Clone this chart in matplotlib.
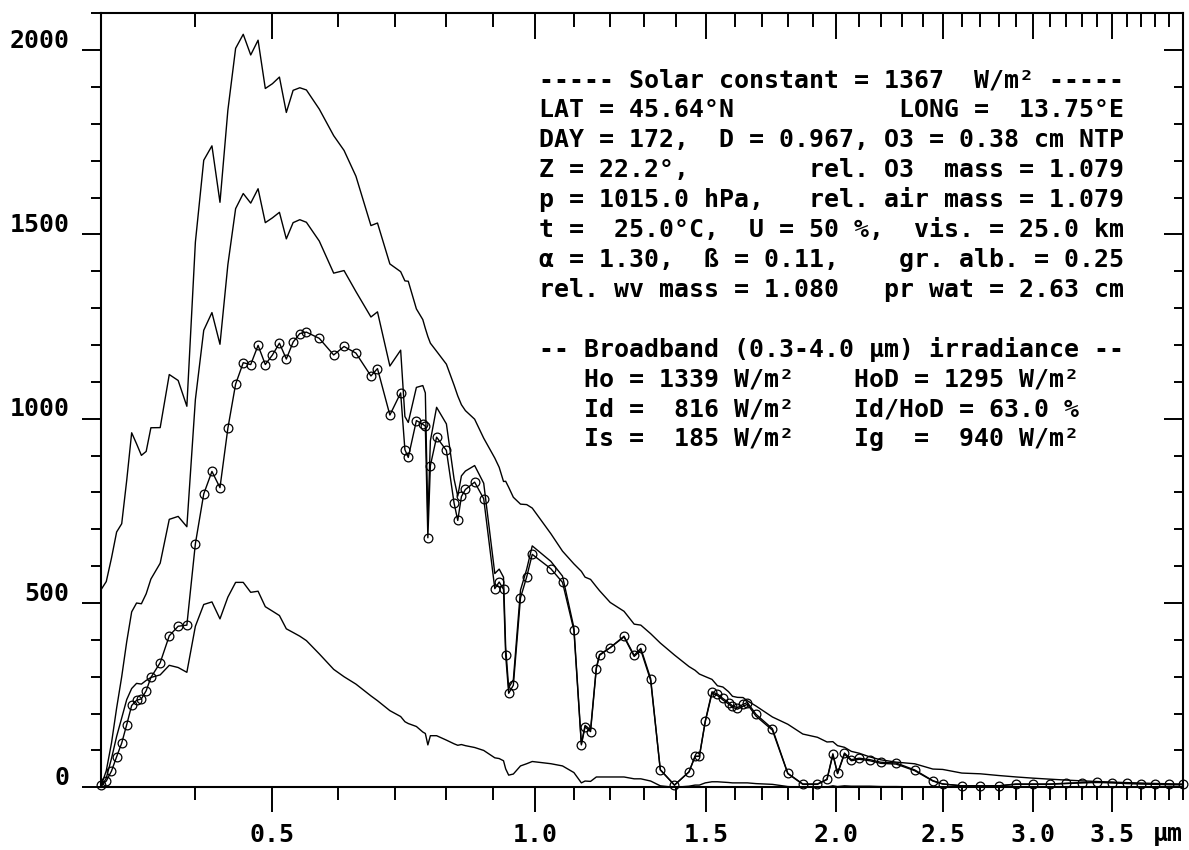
import numpy as np
import matplotlib
matplotlib.use("Agg")
import matplotlib.pyplot as plt
from matplotlib.ticker import FixedLocator, FixedFormatter, NullFormatter
from matplotlib.transforms import ScaledTranslation

# ---------------- data ----------------
wavelength = [0.3, 0.305, 0.31, 0.315, 0.32, 0.325, 0.33, 0.335, 0.34, 0.345,
              0.35, 0.36, 0.37, 0.38, 0.39, 0.4, 0.41, 0.42, 0.43, 0.44,
              0.45, 0.46, 0.47, 0.48, 0.49, 0.5, 0.51, 0.52, 0.53, 0.54,
              0.55, 0.57, 0.593, 0.61, 0.63, 0.656, 0.6676, 0.69, 0.71, 0.718,
              0.7244, 0.74, 0.7525, 0.7575, 0.7625, 0.7675, 0.78, 0.8, 0.816, 0.8237,
              0.8315, 0.84, 0.86, 0.88, 0.905, 0.915, 0.925, 0.93, 0.937, 0.948,
              0.965, 0.98, 0.9935, 1.04, 1.07, 1.1, 1.12, 1.13, 1.145, 1.161,
              1.17, 1.2, 1.24, 1.27, 1.29, 1.32, 1.35, 1.395, 1.4425, 1.4625,
              1.477, 1.497, 1.52, 1.539, 1.558, 1.578, 1.592, 1.61, 1.63, 1.646,
              1.678, 1.74, 1.8, 1.86, 1.92, 1.96, 1.985, 2.005, 2.035, 2.065,
              2.1, 2.148, 2.198, 2.27, 2.36, 2.45, 2.5, 2.6, 2.7, 2.8,
              2.9, 3.0, 3.1, 3.2, 3.3, 3.4, 3.5, 3.6, 3.7, 3.8,
              3.9, 4.0]

extraterrestrial = [535.9, 558.3, 622.0, 692.7, 715.1, 832.9, 961.9, 931.9, 900.6, 911.3,
                    975.5, 975.9, 1119.9, 1103.8, 1033.8, 1479.1, 1701.3, 1740.4, 1587.2, 1837.0,
                    2005.0, 2043.0, 1987.0, 2027.0, 1896.0, 1909.0, 1927.0, 1831.0, 1891.0, 1898.0,
                    1892.0, 1840.0, 1768.0, 1728.0, 1658.0, 1524.0, 1531.0, 1420.0, 1399.0, 1374.0,
                    1373.0, 1298.0, 1269.0, 1245.0, 1223.0, 1205.0, 1183.0, 1148.0, 1091.0, 1062.0,
                    1038.0, 1022.0, 998.7, 947.2, 893.2, 868.2, 829.7, 830.3, 814.0, 786.9,
                    768.3, 767.0, 757.6, 688.1, 640.7, 606.2, 585.9, 570.2, 564.1, 544.2,
                    533.4, 501.6, 477.5, 442.7, 440.0, 416.8, 391.4, 358.9, 327.5, 317.5,
                    307.3, 300.4, 292.8, 275.5, 272.1, 259.3, 246.9, 244.0, 243.5, 234.8,
                    220.5, 190.8, 171.1, 144.5, 135.7, 123.0, 123.8, 113.0, 108.5, 97.5,
                    92.4, 82.4, 74.6, 68.3, 63.8, 49.5, 48.5, 38.6, 36.6, 32.0,
                    28.1, 24.8, 22.1, 19.6, 17.5, 15.7, 14.1, 12.7, 11.5, 10.4,
                    9.5, 8.6]

direct_normal = [5, 17, 44, 83, 120, 170, 222, 236, 240, 262,
                 298, 338, 411, 437, 440, 661, 796, 857, 813, 974,
                 1094, 1152, 1147, 1199, 1147, 1173, 1205, 1162, 1208, 1231,
                 1235, 1218, 1173, 1196, 1178, 1116, 1136, 1010, 1070, 916,
                 895, 995, 985, 980, 677, 873, 950, 914, 771, 724,
                 789, 808, 828, 783, 539, 557, 537, 358, 255, 277,
                 514, 571, 632, 593, 556, 426, 115, 164, 151, 322,
                 358, 379, 410, 358, 377, 295, 47, 6, 42, 84,
                 84, 180, 259, 253, 241, 230, 221, 216, 225, 230,
                 198, 159, 38, 9, 9, 22, 91, 38, 93, 75,
                 79, 75, 68, 66, 47, 18, 9, 4, 4, 4,
                 9, 9, 9, 11, 13, 14, 13, 11, 10, 9,
                 8, 8]

global_horizontal = [3, 45, 120, 215, 300, 395, 476, 500, 498, 525,
                     565, 608, 727, 735, 707, 1052, 1240, 1288, 1202, 1418,
                     1570, 1611, 1585, 1624, 1532, 1545, 1560, 1488, 1532, 1540,
                     1533, 1482, 1395, 1402, 1345, 1276, 1290, 1143, 1186, 1006,
                     990, 1085, 1090, 1070, 724, 940, 1031, 986, 836, 790,
                     845, 858, 873, 825, 580, 592, 570, 380, 270, 292,
                     535, 592, 655, 613, 573, 433, 118, 168, 156, 325,
                     360, 379, 408, 355, 372, 290, 48, 6, 42, 84,
                     84, 178, 255, 249, 237, 226, 217, 212, 220, 225,
                     193, 155, 37, 8, 8, 21, 88, 37, 90, 72,
                     76, 72, 65, 63, 45, 17, 9, 4, 4, 4,
                     8, 8, 8, 10, 12, 13, 12, 10, 9, 8,
                     7, 7]

diffuse = [0, 25, 78, 138, 188, 238, 268, 282, 280, 290,
           298, 305, 331, 325, 312, 437, 496, 503, 457, 516,
           556, 556, 529, 532, 490, 478, 466, 430, 420, 410,
           398, 362, 320, 300, 280, 248, 235, 208, 192, 178,
           173, 165, 150, 146, 115, 140, 140, 128, 118, 114,
           116, 113, 108, 100, 80, 78, 72, 50, 33, 36,
           58, 64, 70, 64, 58, 40, 12, 17, 16, 28,
           28, 28, 28, 23, 23, 17, 4, 0, 3, 6,
           6, 12, 15, 15, 14, 13, 12, 12, 12, 12,
           10, 8, 2, 0, 0, 1, 4, 2, 4, 3,
           3, 3, 2, 2, 1, 0, 0, 0, 0, 0,
           0, 0, 0, 0, 0, 0, 0, 0, 0, 0,
           0, 0]

x_major = [0.5, 1.0, 1.5, 2.0, 2.5, 3.0, 3.5]
x_major_labels = ["0.5", "1.0", "1.5", "2.0", "2.5", "3.0", "3.5"]
x_minor = [0.4, 0.6, 0.7, 0.8, 0.9, 1.1, 1.2, 1.3, 1.4, 1.6, 1.7, 1.8, 1.9,
           2.1, 2.2, 2.3, 2.4, 2.6, 2.7, 2.8, 2.9, 3.1, 3.2, 3.3, 3.4,
           3.6, 3.7, 3.8, 3.9, 4.0]
y_major = [0, 500, 1000, 1500, 2000]
y_major_labels = ["0", "500", "1000", "1500", "2000"]
y_minor = [100, 200, 300, 400, 600, 700, 800, 900, 1100, 1200, 1300, 1400,
           1600, 1700, 1800, 1900, 2100]

info_lines = [
    "----- Solar constant = 1367  W/m² -----",
    "LAT = 45.64°N".ljust(24) + "LONG =  13.75°E",
    "DAY = 172,  D = 0.967, O3 = 0.38 cm NTP",
    "Z = 22.2°,".ljust(18) + "rel. O3  mass = 1.079",
    "p = 1015.0 hPa,".ljust(18) + "rel. air mass = 1.079",
    "t =  25.0°C,  U = 50 %,  vis. = 25.0 km",
    "α = 1.30,  ß = 0.11,".ljust(24) + "gr. alb. = 0.25",
    "rel. wv mass = 1.080".ljust(23) + "pr wat = 2.63 cm",
    "",
    "-- Broadband (0.3-4.0 µm) irradiance --",
    "   Ho = 1339 W/m²".ljust(21) + "HoD = 1295 W/m²",
    "   Id =  816 W/m²".ljust(21) + "Id/HoD = 63.0 %",
    "   Is =  185 W/m²".ljust(21) + "Ig  =  940 W/m²",
]
unit_label = "µm"

# ---------------- figure ----------------
plt.rcParams["font.family"] = ["DejaVu Sans Mono"]
plt.rcParams["font.weight"] = "bold"

W, H = 1189, 850
fig = plt.figure(figsize=(W / 100, H / 100), dpi=100)
L, R = 101 / W, 1182.7 / W
B, T = 1 - 787.3 / H, 1 - 13.3 / H
ax = fig.add_axes([L, B, R - L, T - B])

def fwd(x):
    return np.power(np.clip(np.asarray(x, dtype=float), 1e-9, None), 0.2)

def inv(u):
    return np.power(np.clip(np.asarray(u, dtype=float), 0, None), 5.0)

ax.set_xscale("function", functions=(fwd, inv))
ax.set_xlim(0.3, 4.0)
ax.set_ylim(0, 2100)

lw = 1.0
ax.plot(wavelength, extraterrestrial, color="black", lw=lw)
ax.plot(wavelength, global_horizontal, color="black", lw=lw)
ax.plot(wavelength, diffuse, color="black", lw=lw)
ax.plot(wavelength, direct_normal, color="black", lw=lw, marker="o", ms=6.3,
        mfc="none", mec="black", mew=0.9, clip_on=False)

for s in ax.spines.values():
    s.set_linewidth(1.5)

ax.xaxis.set_major_locator(FixedLocator(x_major))
ax.xaxis.set_major_formatter(FixedFormatter(x_major_labels))
ax.xaxis.set_minor_locator(FixedLocator(x_minor))
ax.xaxis.set_minor_formatter(NullFormatter())
ax.yaxis.set_major_locator(FixedLocator(y_major))
ax.yaxis.set_major_formatter(FixedFormatter(y_major_labels))
ax.yaxis.set_minor_locator(FixedLocator(y_minor))
ax.yaxis.set_minor_formatter(NullFormatter())

fs = 17.9
ax.tick_params(axis="x", which="major", direction="out", length=18, width=1.4,
               pad=7.7, labelsize=fs, top=False, bottom=True)
ax.tick_params(axis="x", which="minor", direction="out", length=9.4, width=1.4,
               top=False, bottom=True)
ax.tick_params(axis="y", which="major", direction="out", length=13.7, width=1.4,
               pad=9.1, labelsize=fs, right=False, left=True)
ax.tick_params(axis="y", which="minor", direction="out", length=7, width=1.4,
               right=False, left=True)

# overlay axes for inward ticks on top / right
ax2 = fig.add_axes(ax.get_position(), sharex=ax, sharey=ax, frameon=False)
ax2.tick_params(axis="both", which="both", bottom=False, left=False, top=True,
                right=True, labelbottom=False, labelleft=False, labeltop=False,
                labelright=False, direction="in", width=1.4)
ax2.tick_params(axis="x", which="major", length=19)
ax2.tick_params(axis="x", which="minor", length=10)
ax2.tick_params(axis="y", which="major", length=13.7)
ax2.tick_params(axis="y", which="minor", length=6.7)

for lab in ax.get_yticklabels():
    lab.set_verticalalignment("baseline")
    lab.set_transform(lab.get_transform() +
                      ScaledTranslation(0, 2.5 / 100, fig.dpi_scale_trans))

fig.text(1153 / W, 1 - 841 / H, unit_label, ha="left", va="baseline", fontsize=fs)

x0 = 539 / W
for i, line in enumerate(info_lines):
    if not line:
        continue
    base = 87.5 + 29.9 * i
    fig.text(x0, 1 - base / H, line, ha="left", va="baseline", fontsize=fs)

fig.savefig("out.png", dpi=100, facecolor="white")
